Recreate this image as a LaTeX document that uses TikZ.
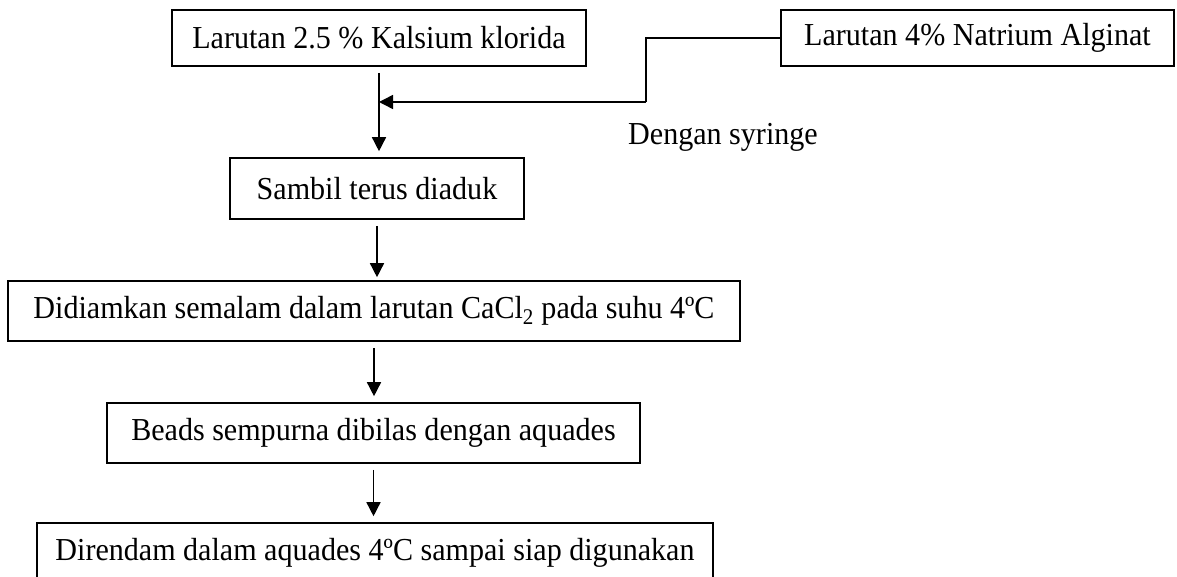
\documentclass[tikz,border=0pt]{standalone}
\usepackage{fontspec}
\setmainfont{Liberation Serif}[FakeStretch=0.94]
\usetikzlibrary{arrows.meta}
\begin{document}
\begin{tikzpicture}[x=1pt,y=-1pt,
  box/.style={draw, line width=1.6pt, inner sep=0pt, minimum height=60pt,
              font=\fontsize{32}{36}\selectfont},
  label/.style={inner sep=0pt, font=\fontsize{32}{36}\selectfont},
  flow/.style={line width=1.5pt, -{Triangle[width=14pt,length=14pt]}},
  link/.style={line width=1.5pt}]
\useasboundingbox (0,0) rectangle (1177,577);
\clip (0,0) rectangle (1177,577);

% process boxes
\node[box, minimum width=414pt, minimum height=56pt] (kcl) at (379,38) {Larutan 2.5 \% Kalsium klorida};
\node[box, minimum width=393pt, minimum height=56pt] (alg) at (977.5,38) {Larutan 4\% Natrium Alginat};
\node[box, minimum width=294pt, minimum height=61pt] (stir) at (377,188.5) {Sambil terus diaduk};
\node[box, minimum width=732pt] (rest) at (374,311) {Didiamkan semalam dalam larutan CaCl\textsubscript{2} pada suhu 4ºC};
\node[box, minimum width=533pt] (rinse) at (373.5,433) {Beads sempurna dibilas dengan aquades};
\node[box, minimum width=676pt] (soak) at (375,553) {Direndam dalam aquades 4ºC sampai siap digunakan};

% side note
\node[label, anchor=base west] (syr) at (628,145) {Dengan syringe};

% alginate feed joins the main line
\coordinate (bend) at (646,102);
\draw[link] (alg.west) -- (alg.west -| bend) -- (bend);
\draw[flow] (bend) -- (bend -| kcl.south);

% main flow
\draw[flow] ([yshift=-6pt]kcl.south) -- ([yshift=6pt]kcl.south |- stir.north);
\draw[flow] ([yshift=-6pt]stir.south) -- ([yshift=3pt]stir.south |- rest.north);
\draw[flow] ([yshift=-6pt]rest.south) -- ([yshift=6pt]rest.south |- rinse.north);
\draw[flow] ([yshift=-6pt]rinse.south) -- ([yshift=6pt]rinse.south |- soak.north);
\end{tikzpicture}
\end{document}
